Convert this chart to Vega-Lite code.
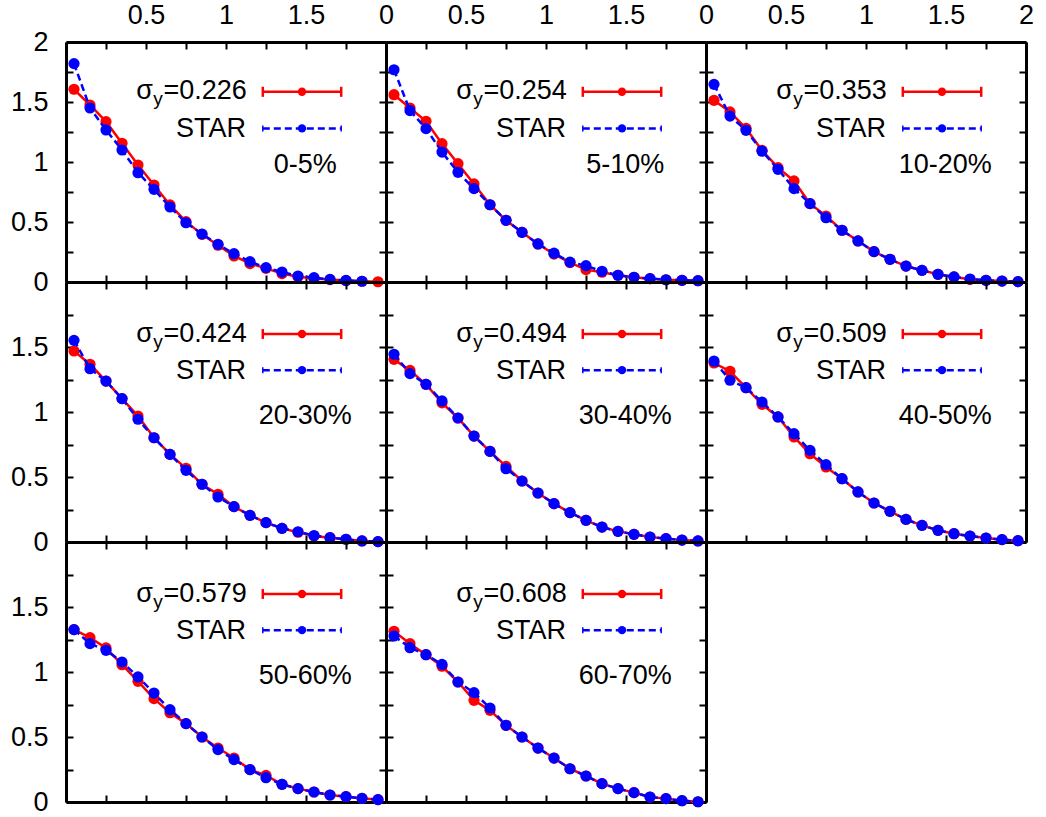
{
"$schema":"https://vega.github.io/schema/vega-lite/v6.json",
"padding":{"left":10,"top":1,"right":5,"bottom":5},
"background":"white",
"datasets":{"pts":[
{"c":"0-5%","s":"m","x":0.05,"y":1.606},{"c":"0-5%","s":"m","x":0.15,"y":1.475},{"c":"0-5%","s":"m","x":0.25,"y":1.336},{"c":"0-5%","s":"m","x":0.35,"y":1.156},{"c":"0-5%","s":"m","x":0.45,"y":0.975},{"c":"0-5%","s":"m","x":0.55,"y":0.808},{"c":"0-5%","s":"m","x":0.65,"y":0.642},{"c":"0-5%","s":"m","x":0.75,"y":0.503},{"c":"0-5%","s":"m","x":0.85,"y":0.397},{"c":"0-5%","s":"m","x":0.95,"y":0.306},{"c":"0-5%","s":"m","x":1.05,"y":0.217},{"c":"0-5%","s":"m","x":1.15,"y":0.153},{"c":"0-5%","s":"m","x":1.25,"y":0.114},{"c":"0-5%","s":"m","x":1.35,"y":0.07},{"c":"0-5%","s":"m","x":1.45,"y":0.044},{"c":"0-5%","s":"m","x":1.55,"y":0.03},{"c":"0-5%","s":"m","x":1.65,"y":0.02},{"c":"0-5%","s":"m","x":1.75,"y":0.012},{"c":"0-5%","s":"m","x":1.85,"y":0.006},{"c":"0-5%","s":"m","x":1.95,"y":0.002},
{"c":"0-5%","s":"s","x":0.05,"y":1.82},{"c":"0-5%","s":"s","x":0.15,"y":1.45},{"c":"0-5%","s":"s","x":0.25,"y":1.267},{"c":"0-5%","s":"s","x":0.35,"y":1.1},{"c":"0-5%","s":"s","x":0.45,"y":0.911},{"c":"0-5%","s":"s","x":0.55,"y":0.772},{"c":"0-5%","s":"s","x":0.65,"y":0.625},{"c":"0-5%","s":"s","x":0.75,"y":0.494},{"c":"0-5%","s":"s","x":0.85,"y":0.4},{"c":"0-5%","s":"s","x":0.95,"y":0.314},{"c":"0-5%","s":"s","x":1.05,"y":0.236},{"c":"0-5%","s":"s","x":1.15,"y":0.17},{"c":"0-5%","s":"s","x":1.25,"y":0.12},{"c":"0-5%","s":"s","x":1.35,"y":0.083},{"c":"0-5%","s":"s","x":1.45,"y":0.05},{"c":"0-5%","s":"s","x":1.55,"y":0.036},{"c":"0-5%","s":"s","x":1.65,"y":0.022},{"c":"0-5%","s":"s","x":1.75,"y":0.013},{"c":"0-5%","s":"s","x":1.85,"y":0.006},
{"c":"5-10%","s":"m","x":0.05,"y":1.561},{"c":"5-10%","s":"m","x":0.15,"y":1.45},{"c":"5-10%","s":"m","x":0.25,"y":1.339},{"c":"5-10%","s":"m","x":0.35,"y":1.153},{"c":"5-10%","s":"m","x":0.45,"y":0.986},{"c":"5-10%","s":"m","x":0.55,"y":0.817},{"c":"5-10%","s":"m","x":0.65,"y":0.644},{"c":"5-10%","s":"m","x":0.75,"y":0.514},{"c":"5-10%","s":"m","x":0.85,"y":0.414},{"c":"5-10%","s":"m","x":0.95,"y":0.317},{"c":"5-10%","s":"m","x":1.05,"y":0.232},{"c":"5-10%","s":"m","x":1.15,"y":0.162},{"c":"5-10%","s":"m","x":1.25,"y":0.103},{"c":"5-10%","s":"m","x":1.35,"y":0.081},{"c":"5-10%","s":"m","x":1.45,"y":0.056},{"c":"5-10%","s":"m","x":1.55,"y":0.039},{"c":"5-10%","s":"m","x":1.65,"y":0.028},{"c":"5-10%","s":"m","x":1.75,"y":0.019},{"c":"5-10%","s":"m","x":1.85,"y":0.014},{"c":"5-10%","s":"m","x":1.95,"y":0.011},
{"c":"5-10%","s":"s","x":0.05,"y":1.769},{"c":"5-10%","s":"s","x":0.15,"y":1.428},{"c":"5-10%","s":"s","x":0.25,"y":1.278},{"c":"5-10%","s":"s","x":0.35,"y":1.083},{"c":"5-10%","s":"s","x":0.45,"y":0.914},{"c":"5-10%","s":"s","x":0.55,"y":0.778},{"c":"5-10%","s":"s","x":0.65,"y":0.644},{"c":"5-10%","s":"s","x":0.75,"y":0.514},{"c":"5-10%","s":"s","x":0.85,"y":0.414},{"c":"5-10%","s":"s","x":0.95,"y":0.317},{"c":"5-10%","s":"s","x":1.05,"y":0.24},{"c":"5-10%","s":"s","x":1.15,"y":0.166},{"c":"5-10%","s":"s","x":1.25,"y":0.136},{"c":"5-10%","s":"s","x":1.35,"y":0.089},{"c":"5-10%","s":"s","x":1.45,"y":0.056},{"c":"5-10%","s":"s","x":1.55,"y":0.039},{"c":"5-10%","s":"s","x":1.65,"y":0.028},{"c":"5-10%","s":"s","x":1.75,"y":0.019},{"c":"5-10%","s":"s","x":1.85,"y":0.014},{"c":"5-10%","s":"s","x":1.95,"y":0.011},
{"c":"10-20%","s":"m","x":0.05,"y":1.514},{"c":"10-20%","s":"m","x":0.15,"y":1.417},{"c":"10-20%","s":"m","x":0.25,"y":1.281},{"c":"10-20%","s":"m","x":0.35,"y":1.097},{"c":"10-20%","s":"m","x":0.45,"y":0.953},{"c":"10-20%","s":"m","x":0.55,"y":0.842},{"c":"10-20%","s":"m","x":0.65,"y":0.653},{"c":"10-20%","s":"m","x":0.75,"y":0.55},{"c":"10-20%","s":"m","x":0.85,"y":0.431},{"c":"10-20%","s":"m","x":0.95,"y":0.342},{"c":"10-20%","s":"m","x":1.05,"y":0.253},{"c":"10-20%","s":"m","x":1.15,"y":0.189},{"c":"10-20%","s":"m","x":1.25,"y":0.133},{"c":"10-20%","s":"m","x":1.35,"y":0.097},{"c":"10-20%","s":"m","x":1.45,"y":0.064},{"c":"10-20%","s":"m","x":1.55,"y":0.042},{"c":"10-20%","s":"m","x":1.65,"y":0.022},{"c":"10-20%","s":"m","x":1.75,"y":0.014},{"c":"10-20%","s":"m","x":1.85,"y":0.008},{"c":"10-20%","s":"m","x":1.95,"y":0.003},
{"c":"10-20%","s":"s","x":0.05,"y":1.647},{"c":"10-20%","s":"s","x":0.15,"y":1.383},{"c":"10-20%","s":"s","x":0.25,"y":1.264},{"c":"10-20%","s":"s","x":0.35,"y":1.09},{"c":"10-20%","s":"s","x":0.45,"y":0.939},{"c":"10-20%","s":"s","x":0.55,"y":0.778},{"c":"10-20%","s":"s","x":0.65,"y":0.653},{"c":"10-20%","s":"s","x":0.75,"y":0.536},{"c":"10-20%","s":"s","x":0.85,"y":0.431},{"c":"10-20%","s":"s","x":0.95,"y":0.342},{"c":"10-20%","s":"s","x":1.05,"y":0.253},{"c":"10-20%","s":"s","x":1.15,"y":0.189},{"c":"10-20%","s":"s","x":1.25,"y":0.133},{"c":"10-20%","s":"s","x":1.35,"y":0.097},{"c":"10-20%","s":"s","x":1.45,"y":0.064},{"c":"10-20%","s":"s","x":1.55,"y":0.042},{"c":"10-20%","s":"s","x":1.65,"y":0.025},{"c":"10-20%","s":"s","x":1.75,"y":0.014},{"c":"10-20%","s":"s","x":1.85,"y":0.008},{"c":"10-20%","s":"s","x":1.95,"y":0.003},
{"c":"20-30%","s":"m","x":0.05,"y":1.469},{"c":"20-30%","s":"m","x":0.15,"y":1.367},{"c":"20-30%","s":"m","x":0.25,"y":1.238},{"c":"20-30%","s":"m","x":0.35,"y":1.103},{"c":"20-30%","s":"m","x":0.45,"y":0.969},{"c":"20-30%","s":"m","x":0.55,"y":0.802},{"c":"20-30%","s":"m","x":0.65,"y":0.674},{"c":"20-30%","s":"m","x":0.75,"y":0.567},{"c":"20-30%","s":"m","x":0.85,"y":0.444},{"c":"20-30%","s":"m","x":0.95,"y":0.367},{"c":"20-30%","s":"m","x":1.05,"y":0.272},{"c":"20-30%","s":"m","x":1.15,"y":0.205},{"c":"20-30%","s":"m","x":1.25,"y":0.149},{"c":"20-30%","s":"m","x":1.35,"y":0.105},{"c":"20-30%","s":"m","x":1.45,"y":0.075},{"c":"20-30%","s":"m","x":1.55,"y":0.046},{"c":"20-30%","s":"m","x":1.65,"y":0.033},{"c":"20-30%","s":"m","x":1.75,"y":0.021},{"c":"20-30%","s":"m","x":1.85,"y":0.008},{"c":"20-30%","s":"m","x":1.95,"y":0.003},
{"c":"20-30%","s":"s","x":0.05,"y":1.551},{"c":"20-30%","s":"s","x":0.15,"y":1.333},{"c":"20-30%","s":"s","x":0.25,"y":1.238},{"c":"20-30%","s":"s","x":0.35,"y":1.103},{"c":"20-30%","s":"s","x":0.45,"y":0.944},{"c":"20-30%","s":"s","x":0.55,"y":0.802},{"c":"20-30%","s":"s","x":0.65,"y":0.674},{"c":"20-30%","s":"s","x":0.75,"y":0.551},{"c":"20-30%","s":"s","x":0.85,"y":0.444},{"c":"20-30%","s":"s","x":0.95,"y":0.346},{"c":"20-30%","s":"s","x":1.05,"y":0.272},{"c":"20-30%","s":"s","x":1.15,"y":0.205},{"c":"20-30%","s":"s","x":1.25,"y":0.149},{"c":"20-30%","s":"s","x":1.35,"y":0.105},{"c":"20-30%","s":"s","x":1.45,"y":0.079},{"c":"20-30%","s":"s","x":1.55,"y":0.05},{"c":"20-30%","s":"s","x":1.65,"y":0.033},{"c":"20-30%","s":"s","x":1.75,"y":0.021},{"c":"20-30%","s":"s","x":1.85,"y":0.008},{"c":"20-30%","s":"s","x":1.95,"y":0.003},
{"c":"30-40%","s":"m","x":0.05,"y":1.405},{"c":"30-40%","s":"m","x":0.15,"y":1.32},{"c":"30-40%","s":"m","x":0.25,"y":1.213},{"c":"30-40%","s":"m","x":0.35,"y":1.07},{"c":"30-40%","s":"m","x":0.45,"y":0.954},{"c":"30-40%","s":"m","x":0.55,"y":0.815},{"c":"30-40%","s":"m","x":0.65,"y":0.697},{"c":"30-40%","s":"m","x":0.75,"y":0.582},{"c":"30-40%","s":"m","x":0.85,"y":0.469},{"c":"30-40%","s":"m","x":0.95,"y":0.377},{"c":"30-40%","s":"m","x":1.05,"y":0.295},{"c":"30-40%","s":"m","x":1.15,"y":0.226},{"c":"30-40%","s":"m","x":1.25,"y":0.167},{"c":"30-40%","s":"m","x":1.35,"y":0.115},{"c":"30-40%","s":"m","x":1.45,"y":0.082},{"c":"30-40%","s":"m","x":1.55,"y":0.059},{"c":"30-40%","s":"m","x":1.65,"y":0.038},{"c":"30-40%","s":"m","x":1.75,"y":0.026},{"c":"30-40%","s":"m","x":1.85,"y":0.015},{"c":"30-40%","s":"m","x":1.95,"y":0.008},
{"c":"30-40%","s":"s","x":0.05,"y":1.444},{"c":"30-40%","s":"s","x":0.15,"y":1.295},{"c":"30-40%","s":"s","x":0.25,"y":1.213},{"c":"30-40%","s":"s","x":0.35,"y":1.085},{"c":"30-40%","s":"s","x":0.45,"y":0.954},{"c":"30-40%","s":"s","x":0.55,"y":0.815},{"c":"30-40%","s":"s","x":0.65,"y":0.697},{"c":"30-40%","s":"s","x":0.75,"y":0.564},{"c":"30-40%","s":"s","x":0.85,"y":0.469},{"c":"30-40%","s":"s","x":0.95,"y":0.377},{"c":"30-40%","s":"s","x":1.05,"y":0.295},{"c":"30-40%","s":"s","x":1.15,"y":0.226},{"c":"30-40%","s":"s","x":1.25,"y":0.167},{"c":"30-40%","s":"s","x":1.35,"y":0.115},{"c":"30-40%","s":"s","x":1.45,"y":0.082},{"c":"30-40%","s":"s","x":1.55,"y":0.059},{"c":"30-40%","s":"s","x":1.65,"y":0.038},{"c":"30-40%","s":"s","x":1.75,"y":0.026},{"c":"30-40%","s":"s","x":1.85,"y":0.015},{"c":"30-40%","s":"s","x":1.95,"y":0.008},
{"c":"40-50%","s":"m","x":0.05,"y":1.377},{"c":"40-50%","s":"m","x":0.15,"y":1.313},{"c":"40-50%","s":"m","x":0.25,"y":1.187},{"c":"40-50%","s":"m","x":0.35,"y":1.059},{"c":"40-50%","s":"m","x":0.45,"y":0.962},{"c":"40-50%","s":"m","x":0.55,"y":0.808},{"c":"40-50%","s":"m","x":0.65,"y":0.679},{"c":"40-50%","s":"m","x":0.75,"y":0.577},{"c":"40-50%","s":"m","x":0.85,"y":0.487},{"c":"40-50%","s":"m","x":0.95,"y":0.385},{"c":"40-50%","s":"m","x":1.05,"y":0.3},{"c":"40-50%","s":"m","x":1.15,"y":0.236},{"c":"40-50%","s":"m","x":1.25,"y":0.174},{"c":"40-50%","s":"m","x":1.35,"y":0.128},{"c":"40-50%","s":"m","x":1.45,"y":0.09},{"c":"40-50%","s":"m","x":1.55,"y":0.064},{"c":"40-50%","s":"m","x":1.65,"y":0.046},{"c":"40-50%","s":"m","x":1.75,"y":0.031},{"c":"40-50%","s":"m","x":1.85,"y":0.018},{"c":"40-50%","s":"m","x":1.95,"y":0.01},
{"c":"40-50%","s":"s","x":0.05,"y":1.392},{"c":"40-50%","s":"s","x":0.15,"y":1.244},{"c":"40-50%","s":"s","x":0.25,"y":1.187},{"c":"40-50%","s":"s","x":0.35,"y":1.077},{"c":"40-50%","s":"s","x":0.45,"y":0.962},{"c":"40-50%","s":"s","x":0.55,"y":0.833},{"c":"40-50%","s":"s","x":0.65,"y":0.705},{"c":"40-50%","s":"s","x":0.75,"y":0.595},{"c":"40-50%","s":"s","x":0.85,"y":0.487},{"c":"40-50%","s":"s","x":0.95,"y":0.385},{"c":"40-50%","s":"s","x":1.05,"y":0.3},{"c":"40-50%","s":"s","x":1.15,"y":0.236},{"c":"40-50%","s":"s","x":1.25,"y":0.174},{"c":"40-50%","s":"s","x":1.35,"y":0.128},{"c":"40-50%","s":"s","x":1.45,"y":0.09},{"c":"40-50%","s":"s","x":1.55,"y":0.064},{"c":"40-50%","s":"s","x":1.65,"y":0.046},{"c":"40-50%","s":"s","x":1.75,"y":0.031},{"c":"40-50%","s":"s","x":1.85,"y":0.018},{"c":"40-50%","s":"s","x":1.95,"y":0.01},
{"c":"50-60%","s":"m","x":0.05,"y":1.326},{"c":"50-60%","s":"m","x":0.15,"y":1.264},{"c":"50-60%","s":"m","x":0.25,"y":1.185},{"c":"50-60%","s":"m","x":0.35,"y":1.056},{"c":"50-60%","s":"m","x":0.45,"y":0.928},{"c":"50-60%","s":"m","x":0.55,"y":0.795},{"c":"50-60%","s":"m","x":0.65,"y":0.687},{"c":"50-60%","s":"m","x":0.75,"y":0.603},{"c":"50-60%","s":"m","x":0.85,"y":0.5},{"c":"50-60%","s":"m","x":0.95,"y":0.415},{"c":"50-60%","s":"m","x":1.05,"y":0.338},{"c":"50-60%","s":"m","x":1.15,"y":0.249},{"c":"50-60%","s":"m","x":1.25,"y":0.205},{"c":"50-60%","s":"m","x":1.35,"y":0.136},{"c":"50-60%","s":"m","x":1.45,"y":0.103},{"c":"50-60%","s":"m","x":1.55,"y":0.077},{"c":"50-60%","s":"m","x":1.65,"y":0.054},{"c":"50-60%","s":"m","x":1.75,"y":0.041},{"c":"50-60%","s":"m","x":1.85,"y":0.028},{"c":"50-60%","s":"m","x":1.95,"y":0.018},
{"c":"50-60%","s":"s","x":0.05,"y":1.326},{"c":"50-60%","s":"s","x":0.15,"y":1.218},{"c":"50-60%","s":"s","x":0.25,"y":1.167},{"c":"50-60%","s":"s","x":0.35,"y":1.077},{"c":"50-60%","s":"s","x":0.45,"y":0.962},{"c":"50-60%","s":"s","x":0.55,"y":0.838},{"c":"50-60%","s":"s","x":0.65,"y":0.71},{"c":"50-60%","s":"s","x":0.75,"y":0.603},{"c":"50-60%","s":"s","x":0.85,"y":0.5},{"c":"50-60%","s":"s","x":0.95,"y":0.403},{"c":"50-60%","s":"s","x":1.05,"y":0.326},{"c":"50-60%","s":"s","x":1.15,"y":0.249},{"c":"50-60%","s":"s","x":1.25,"y":0.187},{"c":"50-60%","s":"s","x":1.35,"y":0.136},{"c":"50-60%","s":"s","x":1.45,"y":0.103},{"c":"50-60%","s":"s","x":1.55,"y":0.077},{"c":"50-60%","s":"s","x":1.65,"y":0.054},{"c":"50-60%","s":"s","x":1.75,"y":0.041},{"c":"50-60%","s":"s","x":1.85,"y":0.028},{"c":"50-60%","s":"s","x":1.95,"y":0.018},
{"c":"60-70%","s":"m","x":0.05,"y":1.313},{"c":"60-70%","s":"m","x":0.15,"y":1.218},{"c":"60-70%","s":"m","x":0.25,"y":1.133},{"c":"60-70%","s":"m","x":0.35,"y":1.044},{"c":"60-70%","s":"m","x":0.45,"y":0.923},{"c":"60-70%","s":"m","x":0.55,"y":0.782},{"c":"60-70%","s":"m","x":0.65,"y":0.705},{"c":"60-70%","s":"m","x":0.75,"y":0.59},{"c":"60-70%","s":"m","x":0.85,"y":0.5},{"c":"60-70%","s":"m","x":0.95,"y":0.415},{"c":"60-70%","s":"m","x":1.05,"y":0.338},{"c":"60-70%","s":"m","x":1.15,"y":0.256},{"c":"60-70%","s":"m","x":1.25,"y":0.2},{"c":"60-70%","s":"m","x":1.35,"y":0.141},{"c":"60-70%","s":"m","x":1.45,"y":0.103},{"c":"60-70%","s":"m","x":1.55,"y":0.072},{"c":"60-70%","s":"m","x":1.65,"y":0.038},{"c":"60-70%","s":"m","x":1.75,"y":0.026},{"c":"60-70%","s":"m","x":1.85,"y":0.01},{"c":"60-70%","s":"m","x":1.95,"y":0.002},
{"c":"60-70%","s":"s","x":0.05,"y":1.277},{"c":"60-70%","s":"s","x":0.15,"y":1.187},{"c":"60-70%","s":"s","x":0.25,"y":1.133},{"c":"60-70%","s":"s","x":0.35,"y":1.059},{"c":"60-70%","s":"s","x":0.45,"y":0.923},{"c":"60-70%","s":"s","x":0.55,"y":0.841},{"c":"60-70%","s":"s","x":0.65,"y":0.723},{"c":"60-70%","s":"s","x":0.75,"y":0.59},{"c":"60-70%","s":"s","x":0.85,"y":0.5},{"c":"60-70%","s":"s","x":0.95,"y":0.415},{"c":"60-70%","s":"s","x":1.05,"y":0.338},{"c":"60-70%","s":"s","x":1.15,"y":0.256},{"c":"60-70%","s":"s","x":1.25,"y":0.2},{"c":"60-70%","s":"s","x":1.35,"y":0.141},{"c":"60-70%","s":"s","x":1.45,"y":0.103},{"c":"60-70%","s":"s","x":1.55,"y":0.072},{"c":"60-70%","s":"s","x":1.65,"y":0.038},{"c":"60-70%","s":"s","x":1.75,"y":0.026},{"c":"60-70%","s":"s","x":1.85,"y":0.01},{"c":"60-70%","s":"s","x":1.95,"y":0.002}
]},
"config":{
"view":{"stroke":null},
"axis":{"tickSize":-7,"tickWidth":2,"tickColor":"black","domainColor":"black","domainWidth":3,"grid":false,"labelFont":"Liberation Sans","labelFontSize":27,"labelColor":"black","labelFlush":false,"labelOverlap":false,"labelBound":false}
},
"columns":3,
"spacing":0,
"bounds":"flush",
"align":"each",
"concat":[
{"width":320,"height":240,"resolve":{"axis":{"x":"independent","y":"independent"}},"layer":[
{"data":{"name":"pts"},"transform":[{"filter":"datum.c=='0-5%' && datum.s=='m'"}],"mark":{"type":"line","color":"#ff0000","strokeWidth":2.5,"point":{"filled":true,"size":125,"color":"#ff0000","opacity":1}},"encoding":{"x":{"field":"x","type":"quantitative","scale":{"domain":[0,2]},"axis":{"orient":"bottom","values":[0,0.25,0.5,0.75,1,1.25,1.5,1.75,2],"labels":false,"title":null}},"y":{"field":"y","type":"quantitative","scale":{"domain":[0,2]},"axis":{"orient":"left","values":[0,0.25,0.5,0.75,1,1.25,1.5,1.75,2],"title":null,"labelPadding":25,"labelExpr":"datum.value % 0.5 == 0 ? format(datum.value, '~g') : ''"}}}},
{"data":{"name":"pts"},"transform":[{"filter":"datum.c=='0-5%' && datum.s=='s'"}],"mark":{"type":"line","color":"#0000ff","strokeWidth":2.5,"strokeDash":[7,4],"point":{"filled":true,"size":125,"color":"#0000ff","opacity":1}},"encoding":{"x":{"field":"x","type":"quantitative","axis":{"orient":"top","values":[0,0.25,0.5,0.75,1,1.25,1.5,1.75,2],"title":null,"labelPadding":20,"labelExpr":"datum.value % 0.5 == 0 && datum.value > 0 && datum.value < 2 ? format(datum.value, '~g') : ''"}},"y":{"field":"y","type":"quantitative","axis":{"orient":"right","values":[0,0.25,0.5,0.75,1,1.25,1.5,1.75,2],"labels":false,"title":null}}}},
{"data":{"values":[{}]},"layer":[
{"mark":{"type":"rule","color":"#ff0000","strokeWidth":2.5},"encoding":{"x":{"datum":1.23,"type":"quantitative","axis":null},"x2":{"datum":1.72},"y":{"datum":1.585,"type":"quantitative","axis":null}}},
{"mark":{"type":"rule","color":"#ff0000","strokeWidth":2.5},"encoding":{"x":{"datum":1.23,"type":"quantitative","axis":null},"y":{"datum":1.543,"type":"quantitative","axis":null},"y2":{"datum":1.627}}},
{"mark":{"type":"rule","color":"#ff0000","strokeWidth":2.5},"encoding":{"x":{"datum":1.72,"type":"quantitative","axis":null},"y":{"datum":1.543,"type":"quantitative","axis":null},"y2":{"datum":1.627}}},
{"mark":{"type":"point","filled":true,"size":70,"color":"#ff0000","opacity":1},"encoding":{"x":{"datum":1.475,"type":"quantitative","axis":null},"y":{"datum":1.585,"type":"quantitative","axis":null}}},
{"mark":{"type":"rule","color":"#0000ff","strokeWidth":2.5,"strokeDash":[7,4]},"encoding":{"x":{"datum":1.23,"type":"quantitative","axis":null},"x2":{"datum":1.72},"y":{"datum":1.28,"type":"quantitative","axis":null}}},
{"mark":{"type":"rule","color":"#0000ff","strokeWidth":1.5},"encoding":{"x":{"datum":1.23,"type":"quantitative","axis":null},"y":{"datum":1.255,"type":"quantitative","axis":null},"y2":{"datum":1.305}}},
{"mark":{"type":"rule","color":"#0000ff","strokeWidth":1.5},"encoding":{"x":{"datum":1.72,"type":"quantitative","axis":null},"y":{"datum":1.255,"type":"quantitative","axis":null},"y2":{"datum":1.305}}},
{"mark":{"type":"point","filled":true,"size":70,"color":"#0000ff","opacity":1},"encoding":{"x":{"datum":1.475,"type":"quantitative","axis":null},"y":{"datum":1.28,"type":"quantitative","axis":null}}},
{"mark":{"type":"text","text":"=0.226","align":"right","baseline":"middle","font":"Liberation Sans","fontSize":27,"color":"black"},"encoding":{"x":{"datum":1.13,"type":"quantitative","axis":null},"y":{"datum":1.595,"type":"quantitative","axis":null}}},
{"mark":{"type":"text","text":"y","align":"right","baseline":"middle","font":"Liberation Sans","fontSize":19,"color":"black","dx":-84,"dy":8},"encoding":{"x":{"datum":1.13,"type":"quantitative","axis":null},"y":{"datum":1.595,"type":"quantitative","axis":null}}},
{"mark":{"type":"text","text":"σ","align":"right","baseline":"middle","font":"Liberation Sans","fontSize":27,"color":"black","dx":-94},"encoding":{"x":{"datum":1.13,"type":"quantitative","axis":null},"y":{"datum":1.595,"type":"quantitative","axis":null}}},
{"mark":{"type":"text","text":"STAR","align":"right","baseline":"middle","font":"Liberation Sans","fontSize":27,"color":"black"},"encoding":{"x":{"datum":1.125,"type":"quantitative","axis":null},"y":{"datum":1.275,"type":"quantitative","axis":null}}},
{"mark":{"type":"text","text":"0-5%","align":"center","baseline":"middle","font":"Liberation Sans","fontSize":27,"color":"black"},"encoding":{"x":{"datum":1.495,"type":"quantitative","axis":null},"y":{"datum":0.975,"type":"quantitative","axis":null}}}
]}
]},
{"width":320,"height":240,"resolve":{"axis":{"x":"independent","y":"independent"}},"layer":[
{"data":{"name":"pts"},"transform":[{"filter":"datum.c=='5-10%' && datum.s=='m'"}],"mark":{"type":"line","color":"#ff0000","strokeWidth":2.5,"point":{"filled":true,"size":125,"color":"#ff0000","opacity":1}},"encoding":{"x":{"field":"x","type":"quantitative","scale":{"domain":[0,2]},"axis":{"orient":"bottom","values":[0,0.25,0.5,0.75,1,1.25,1.5,1.75,2],"labels":false,"title":null}},"y":{"field":"y","type":"quantitative","scale":{"domain":[0,2]},"axis":{"orient":"left","values":[0,0.25,0.5,0.75,1,1.25,1.5,1.75,2],"labels":false,"title":null}}}},
{"data":{"name":"pts"},"transform":[{"filter":"datum.c=='5-10%' && datum.s=='s'"}],"mark":{"type":"line","color":"#0000ff","strokeWidth":2.5,"strokeDash":[7,4],"point":{"filled":true,"size":125,"color":"#0000ff","opacity":1}},"encoding":{"x":{"field":"x","type":"quantitative","axis":{"orient":"top","values":[0,0.25,0.5,0.75,1,1.25,1.5,1.75,2],"title":null,"labelPadding":20,"labelExpr":"datum.value % 0.5 == 0 && datum.value < 2 ? format(datum.value, '~g') : ''"}},"y":{"field":"y","type":"quantitative","axis":{"orient":"right","values":[0,0.25,0.5,0.75,1,1.25,1.5,1.75,2],"labels":false,"title":null}}}},
{"data":{"values":[{}]},"layer":[
{"mark":{"type":"rule","color":"#ff0000","strokeWidth":2.5},"encoding":{"x":{"datum":1.23,"type":"quantitative","axis":null},"x2":{"datum":1.72},"y":{"datum":1.585,"type":"quantitative","axis":null}}},
{"mark":{"type":"rule","color":"#ff0000","strokeWidth":2.5},"encoding":{"x":{"datum":1.23,"type":"quantitative","axis":null},"y":{"datum":1.543,"type":"quantitative","axis":null},"y2":{"datum":1.627}}},
{"mark":{"type":"rule","color":"#ff0000","strokeWidth":2.5},"encoding":{"x":{"datum":1.72,"type":"quantitative","axis":null},"y":{"datum":1.543,"type":"quantitative","axis":null},"y2":{"datum":1.627}}},
{"mark":{"type":"point","filled":true,"size":70,"color":"#ff0000","opacity":1},"encoding":{"x":{"datum":1.475,"type":"quantitative","axis":null},"y":{"datum":1.585,"type":"quantitative","axis":null}}},
{"mark":{"type":"rule","color":"#0000ff","strokeWidth":2.5,"strokeDash":[7,4]},"encoding":{"x":{"datum":1.23,"type":"quantitative","axis":null},"x2":{"datum":1.72},"y":{"datum":1.28,"type":"quantitative","axis":null}}},
{"mark":{"type":"rule","color":"#0000ff","strokeWidth":1.5},"encoding":{"x":{"datum":1.23,"type":"quantitative","axis":null},"y":{"datum":1.255,"type":"quantitative","axis":null},"y2":{"datum":1.305}}},
{"mark":{"type":"rule","color":"#0000ff","strokeWidth":1.5},"encoding":{"x":{"datum":1.72,"type":"quantitative","axis":null},"y":{"datum":1.255,"type":"quantitative","axis":null},"y2":{"datum":1.305}}},
{"mark":{"type":"point","filled":true,"size":70,"color":"#0000ff","opacity":1},"encoding":{"x":{"datum":1.475,"type":"quantitative","axis":null},"y":{"datum":1.28,"type":"quantitative","axis":null}}},
{"mark":{"type":"text","text":"=0.254","align":"right","baseline":"middle","font":"Liberation Sans","fontSize":27,"color":"black"},"encoding":{"x":{"datum":1.13,"type":"quantitative","axis":null},"y":{"datum":1.595,"type":"quantitative","axis":null}}},
{"mark":{"type":"text","text":"y","align":"right","baseline":"middle","font":"Liberation Sans","fontSize":19,"color":"black","dx":-84,"dy":8},"encoding":{"x":{"datum":1.13,"type":"quantitative","axis":null},"y":{"datum":1.595,"type":"quantitative","axis":null}}},
{"mark":{"type":"text","text":"σ","align":"right","baseline":"middle","font":"Liberation Sans","fontSize":27,"color":"black","dx":-94},"encoding":{"x":{"datum":1.13,"type":"quantitative","axis":null},"y":{"datum":1.595,"type":"quantitative","axis":null}}},
{"mark":{"type":"text","text":"STAR","align":"right","baseline":"middle","font":"Liberation Sans","fontSize":27,"color":"black"},"encoding":{"x":{"datum":1.125,"type":"quantitative","axis":null},"y":{"datum":1.275,"type":"quantitative","axis":null}}},
{"mark":{"type":"text","text":"5-10%","align":"center","baseline":"middle","font":"Liberation Sans","fontSize":27,"color":"black"},"encoding":{"x":{"datum":1.495,"type":"quantitative","axis":null},"y":{"datum":0.975,"type":"quantitative","axis":null}}}
]}
]},
{"width":320,"height":240,"resolve":{"axis":{"x":"independent","y":"independent"}},"layer":[
{"data":{"name":"pts"},"transform":[{"filter":"datum.c=='10-20%' && datum.s=='m'"}],"mark":{"type":"line","color":"#ff0000","strokeWidth":2.5,"point":{"filled":true,"size":125,"color":"#ff0000","opacity":1}},"encoding":{"x":{"field":"x","type":"quantitative","scale":{"domain":[0,2]},"axis":{"orient":"bottom","values":[0,0.25,0.5,0.75,1,1.25,1.5,1.75,2],"labels":false,"title":null}},"y":{"field":"y","type":"quantitative","scale":{"domain":[0,2]},"axis":{"orient":"left","values":[0,0.25,0.5,0.75,1,1.25,1.5,1.75,2],"labels":false,"title":null}}}},
{"data":{"name":"pts"},"transform":[{"filter":"datum.c=='10-20%' && datum.s=='s'"}],"mark":{"type":"line","color":"#0000ff","strokeWidth":2.5,"strokeDash":[7,4],"point":{"filled":true,"size":125,"color":"#0000ff","opacity":1}},"encoding":{"x":{"field":"x","type":"quantitative","axis":{"orient":"top","values":[0,0.25,0.5,0.75,1,1.25,1.5,1.75,2],"title":null,"labelPadding":20,"labelExpr":"datum.value % 0.5 == 0 ? format(datum.value, '~g') : ''"}},"y":{"field":"y","type":"quantitative","axis":{"orient":"right","values":[0,0.25,0.5,0.75,1,1.25,1.5,1.75,2],"labels":false,"title":null}}}},
{"data":{"values":[{}]},"layer":[
{"mark":{"type":"rule","color":"#ff0000","strokeWidth":2.5},"encoding":{"x":{"datum":1.23,"type":"quantitative","axis":null},"x2":{"datum":1.72},"y":{"datum":1.585,"type":"quantitative","axis":null}}},
{"mark":{"type":"rule","color":"#ff0000","strokeWidth":2.5},"encoding":{"x":{"datum":1.23,"type":"quantitative","axis":null},"y":{"datum":1.543,"type":"quantitative","axis":null},"y2":{"datum":1.627}}},
{"mark":{"type":"rule","color":"#ff0000","strokeWidth":2.5},"encoding":{"x":{"datum":1.72,"type":"quantitative","axis":null},"y":{"datum":1.543,"type":"quantitative","axis":null},"y2":{"datum":1.627}}},
{"mark":{"type":"point","filled":true,"size":70,"color":"#ff0000","opacity":1},"encoding":{"x":{"datum":1.475,"type":"quantitative","axis":null},"y":{"datum":1.585,"type":"quantitative","axis":null}}},
{"mark":{"type":"rule","color":"#0000ff","strokeWidth":2.5,"strokeDash":[7,4]},"encoding":{"x":{"datum":1.23,"type":"quantitative","axis":null},"x2":{"datum":1.72},"y":{"datum":1.28,"type":"quantitative","axis":null}}},
{"mark":{"type":"rule","color":"#0000ff","strokeWidth":1.5},"encoding":{"x":{"datum":1.23,"type":"quantitative","axis":null},"y":{"datum":1.255,"type":"quantitative","axis":null},"y2":{"datum":1.305}}},
{"mark":{"type":"rule","color":"#0000ff","strokeWidth":1.5},"encoding":{"x":{"datum":1.72,"type":"quantitative","axis":null},"y":{"datum":1.255,"type":"quantitative","axis":null},"y2":{"datum":1.305}}},
{"mark":{"type":"point","filled":true,"size":70,"color":"#0000ff","opacity":1},"encoding":{"x":{"datum":1.475,"type":"quantitative","axis":null},"y":{"datum":1.28,"type":"quantitative","axis":null}}},
{"mark":{"type":"text","text":"=0.353","align":"right","baseline":"middle","font":"Liberation Sans","fontSize":27,"color":"black"},"encoding":{"x":{"datum":1.13,"type":"quantitative","axis":null},"y":{"datum":1.595,"type":"quantitative","axis":null}}},
{"mark":{"type":"text","text":"y","align":"right","baseline":"middle","font":"Liberation Sans","fontSize":19,"color":"black","dx":-84,"dy":8},"encoding":{"x":{"datum":1.13,"type":"quantitative","axis":null},"y":{"datum":1.595,"type":"quantitative","axis":null}}},
{"mark":{"type":"text","text":"σ","align":"right","baseline":"middle","font":"Liberation Sans","fontSize":27,"color":"black","dx":-94},"encoding":{"x":{"datum":1.13,"type":"quantitative","axis":null},"y":{"datum":1.595,"type":"quantitative","axis":null}}},
{"mark":{"type":"text","text":"STAR","align":"right","baseline":"middle","font":"Liberation Sans","fontSize":27,"color":"black"},"encoding":{"x":{"datum":1.125,"type":"quantitative","axis":null},"y":{"datum":1.275,"type":"quantitative","axis":null}}},
{"mark":{"type":"text","text":"10-20%","align":"center","baseline":"middle","font":"Liberation Sans","fontSize":27,"color":"black"},"encoding":{"x":{"datum":1.495,"type":"quantitative","axis":null},"y":{"datum":0.975,"type":"quantitative","axis":null}}}
]}
]},
{"width":320,"height":260,"resolve":{"axis":{"x":"independent","y":"independent"}},"layer":[
{"data":{"name":"pts"},"transform":[{"filter":"datum.c=='20-30%' && datum.s=='m'"}],"mark":{"type":"line","color":"#ff0000","strokeWidth":2.5,"point":{"filled":true,"size":125,"color":"#ff0000","opacity":1}},"encoding":{"x":{"field":"x","type":"quantitative","scale":{"domain":[0,2]},"axis":{"orient":"bottom","values":[0,0.25,0.5,0.75,1,1.25,1.5,1.75,2],"labels":false,"title":null}},"y":{"field":"y","type":"quantitative","scale":{"domain":[0,2]},"axis":{"orient":"left","values":[0,0.25,0.5,0.75,1,1.25,1.5,1.75,2],"title":null,"labelPadding":25,"labelExpr":"datum.value % 0.5 == 0 && datum.value < 2 ? format(datum.value, '~g') : ''"}}}},
{"data":{"name":"pts"},"transform":[{"filter":"datum.c=='20-30%' && datum.s=='s'"}],"mark":{"type":"line","color":"#0000ff","strokeWidth":2.5,"strokeDash":[7,4],"point":{"filled":true,"size":125,"color":"#0000ff","opacity":1}},"encoding":{"x":{"field":"x","type":"quantitative","axis":{"orient":"top","values":[0,0.25,0.5,0.75,1,1.25,1.5,1.75,2],"labels":false,"title":null}},"y":{"field":"y","type":"quantitative","axis":{"orient":"right","values":[0,0.25,0.5,0.75,1,1.25,1.5,1.75,2],"labels":false,"title":null}}}},
{"data":{"values":[{}]},"layer":[
{"mark":{"type":"rule","color":"#ff0000","strokeWidth":2.5},"encoding":{"x":{"datum":1.23,"type":"quantitative","axis":null},"x2":{"datum":1.72},"y":{"datum":1.6,"type":"quantitative","axis":null}}},
{"mark":{"type":"rule","color":"#ff0000","strokeWidth":2.5},"encoding":{"x":{"datum":1.23,"type":"quantitative","axis":null},"y":{"datum":1.562,"type":"quantitative","axis":null},"y2":{"datum":1.638}}},
{"mark":{"type":"rule","color":"#ff0000","strokeWidth":2.5},"encoding":{"x":{"datum":1.72,"type":"quantitative","axis":null},"y":{"datum":1.562,"type":"quantitative","axis":null},"y2":{"datum":1.638}}},
{"mark":{"type":"point","filled":true,"size":70,"color":"#ff0000","opacity":1},"encoding":{"x":{"datum":1.475,"type":"quantitative","axis":null},"y":{"datum":1.6,"type":"quantitative","axis":null}}},
{"mark":{"type":"rule","color":"#0000ff","strokeWidth":2.5,"strokeDash":[7,4]},"encoding":{"x":{"datum":1.23,"type":"quantitative","axis":null},"x2":{"datum":1.72},"y":{"datum":1.322,"type":"quantitative","axis":null}}},
{"mark":{"type":"rule","color":"#0000ff","strokeWidth":1.5},"encoding":{"x":{"datum":1.23,"type":"quantitative","axis":null},"y":{"datum":1.299,"type":"quantitative","axis":null},"y2":{"datum":1.345}}},
{"mark":{"type":"rule","color":"#0000ff","strokeWidth":1.5},"encoding":{"x":{"datum":1.72,"type":"quantitative","axis":null},"y":{"datum":1.299,"type":"quantitative","axis":null},"y2":{"datum":1.345}}},
{"mark":{"type":"point","filled":true,"size":70,"color":"#0000ff","opacity":1},"encoding":{"x":{"datum":1.475,"type":"quantitative","axis":null},"y":{"datum":1.322,"type":"quantitative","axis":null}}},
{"mark":{"type":"text","text":"=0.424","align":"right","baseline":"middle","font":"Liberation Sans","fontSize":27,"color":"black"},"encoding":{"x":{"datum":1.13,"type":"quantitative","axis":null},"y":{"datum":1.6,"type":"quantitative","axis":null}}},
{"mark":{"type":"text","text":"y","align":"right","baseline":"middle","font":"Liberation Sans","fontSize":19,"color":"black","dx":-84,"dy":8},"encoding":{"x":{"datum":1.13,"type":"quantitative","axis":null},"y":{"datum":1.6,"type":"quantitative","axis":null}}},
{"mark":{"type":"text","text":"σ","align":"right","baseline":"middle","font":"Liberation Sans","fontSize":27,"color":"black","dx":-94},"encoding":{"x":{"datum":1.13,"type":"quantitative","axis":null},"y":{"datum":1.6,"type":"quantitative","axis":null}}},
{"mark":{"type":"text","text":"STAR","align":"right","baseline":"middle","font":"Liberation Sans","fontSize":27,"color":"black"},"encoding":{"x":{"datum":1.125,"type":"quantitative","axis":null},"y":{"datum":1.318,"type":"quantitative","axis":null}}},
{"mark":{"type":"text","text":"20-30%","align":"center","baseline":"middle","font":"Liberation Sans","fontSize":27,"color":"black"},"encoding":{"x":{"datum":1.495,"type":"quantitative","axis":null},"y":{"datum":0.97,"type":"quantitative","axis":null}}}
]}
]},
{"width":320,"height":260,"resolve":{"axis":{"x":"independent","y":"independent"}},"layer":[
{"data":{"name":"pts"},"transform":[{"filter":"datum.c=='30-40%' && datum.s=='m'"}],"mark":{"type":"line","color":"#ff0000","strokeWidth":2.5,"point":{"filled":true,"size":125,"color":"#ff0000","opacity":1}},"encoding":{"x":{"field":"x","type":"quantitative","scale":{"domain":[0,2]},"axis":{"orient":"bottom","values":[0,0.25,0.5,0.75,1,1.25,1.5,1.75,2],"labels":false,"title":null}},"y":{"field":"y","type":"quantitative","scale":{"domain":[0,2]},"axis":{"orient":"left","values":[0,0.25,0.5,0.75,1,1.25,1.5,1.75,2],"labels":false,"title":null}}}},
{"data":{"name":"pts"},"transform":[{"filter":"datum.c=='30-40%' && datum.s=='s'"}],"mark":{"type":"line","color":"#0000ff","strokeWidth":2.5,"strokeDash":[7,4],"point":{"filled":true,"size":125,"color":"#0000ff","opacity":1}},"encoding":{"x":{"field":"x","type":"quantitative","axis":{"orient":"top","values":[0,0.25,0.5,0.75,1,1.25,1.5,1.75,2],"labels":false,"title":null}},"y":{"field":"y","type":"quantitative","axis":{"orient":"right","values":[0,0.25,0.5,0.75,1,1.25,1.5,1.75,2],"labels":false,"title":null}}}},
{"data":{"values":[{}]},"layer":[
{"mark":{"type":"rule","color":"#ff0000","strokeWidth":2.5},"encoding":{"x":{"datum":1.23,"type":"quantitative","axis":null},"x2":{"datum":1.72},"y":{"datum":1.6,"type":"quantitative","axis":null}}},
{"mark":{"type":"rule","color":"#ff0000","strokeWidth":2.5},"encoding":{"x":{"datum":1.23,"type":"quantitative","axis":null},"y":{"datum":1.562,"type":"quantitative","axis":null},"y2":{"datum":1.638}}},
{"mark":{"type":"rule","color":"#ff0000","strokeWidth":2.5},"encoding":{"x":{"datum":1.72,"type":"quantitative","axis":null},"y":{"datum":1.562,"type":"quantitative","axis":null},"y2":{"datum":1.638}}},
{"mark":{"type":"point","filled":true,"size":70,"color":"#ff0000","opacity":1},"encoding":{"x":{"datum":1.475,"type":"quantitative","axis":null},"y":{"datum":1.6,"type":"quantitative","axis":null}}},
{"mark":{"type":"rule","color":"#0000ff","strokeWidth":2.5,"strokeDash":[7,4]},"encoding":{"x":{"datum":1.23,"type":"quantitative","axis":null},"x2":{"datum":1.72},"y":{"datum":1.322,"type":"quantitative","axis":null}}},
{"mark":{"type":"rule","color":"#0000ff","strokeWidth":1.5},"encoding":{"x":{"datum":1.23,"type":"quantitative","axis":null},"y":{"datum":1.299,"type":"quantitative","axis":null},"y2":{"datum":1.345}}},
{"mark":{"type":"rule","color":"#0000ff","strokeWidth":1.5},"encoding":{"x":{"datum":1.72,"type":"quantitative","axis":null},"y":{"datum":1.299,"type":"quantitative","axis":null},"y2":{"datum":1.345}}},
{"mark":{"type":"point","filled":true,"size":70,"color":"#0000ff","opacity":1},"encoding":{"x":{"datum":1.475,"type":"quantitative","axis":null},"y":{"datum":1.322,"type":"quantitative","axis":null}}},
{"mark":{"type":"text","text":"=0.494","align":"right","baseline":"middle","font":"Liberation Sans","fontSize":27,"color":"black"},"encoding":{"x":{"datum":1.13,"type":"quantitative","axis":null},"y":{"datum":1.6,"type":"quantitative","axis":null}}},
{"mark":{"type":"text","text":"y","align":"right","baseline":"middle","font":"Liberation Sans","fontSize":19,"color":"black","dx":-84,"dy":8},"encoding":{"x":{"datum":1.13,"type":"quantitative","axis":null},"y":{"datum":1.6,"type":"quantitative","axis":null}}},
{"mark":{"type":"text","text":"σ","align":"right","baseline":"middle","font":"Liberation Sans","fontSize":27,"color":"black","dx":-94},"encoding":{"x":{"datum":1.13,"type":"quantitative","axis":null},"y":{"datum":1.6,"type":"quantitative","axis":null}}},
{"mark":{"type":"text","text":"STAR","align":"right","baseline":"middle","font":"Liberation Sans","fontSize":27,"color":"black"},"encoding":{"x":{"datum":1.125,"type":"quantitative","axis":null},"y":{"datum":1.318,"type":"quantitative","axis":null}}},
{"mark":{"type":"text","text":"30-40%","align":"center","baseline":"middle","font":"Liberation Sans","fontSize":27,"color":"black"},"encoding":{"x":{"datum":1.495,"type":"quantitative","axis":null},"y":{"datum":0.97,"type":"quantitative","axis":null}}}
]}
]},
{"width":320,"height":260,"resolve":{"axis":{"x":"independent","y":"independent"}},"layer":[
{"data":{"name":"pts"},"transform":[{"filter":"datum.c=='40-50%' && datum.s=='m'"}],"mark":{"type":"line","color":"#ff0000","strokeWidth":2.5,"point":{"filled":true,"size":125,"color":"#ff0000","opacity":1}},"encoding":{"x":{"field":"x","type":"quantitative","scale":{"domain":[0,2]},"axis":{"orient":"bottom","values":[0,0.25,0.5,0.75,1,1.25,1.5,1.75,2],"labels":false,"title":null}},"y":{"field":"y","type":"quantitative","scale":{"domain":[0,2]},"axis":{"orient":"left","values":[0,0.25,0.5,0.75,1,1.25,1.5,1.75,2],"labels":false,"title":null}}}},
{"data":{"name":"pts"},"transform":[{"filter":"datum.c=='40-50%' && datum.s=='s'"}],"mark":{"type":"line","color":"#0000ff","strokeWidth":2.5,"strokeDash":[7,4],"point":{"filled":true,"size":125,"color":"#0000ff","opacity":1}},"encoding":{"x":{"field":"x","type":"quantitative","axis":{"orient":"top","values":[0,0.25,0.5,0.75,1,1.25,1.5,1.75,2],"labels":false,"title":null}},"y":{"field":"y","type":"quantitative","axis":{"orient":"right","values":[0,0.25,0.5,0.75,1,1.25,1.5,1.75,2],"labels":false,"title":null}}}},
{"data":{"values":[{}]},"layer":[
{"mark":{"type":"rule","color":"#ff0000","strokeWidth":2.5},"encoding":{"x":{"datum":1.23,"type":"quantitative","axis":null},"x2":{"datum":1.72},"y":{"datum":1.6,"type":"quantitative","axis":null}}},
{"mark":{"type":"rule","color":"#ff0000","strokeWidth":2.5},"encoding":{"x":{"datum":1.23,"type":"quantitative","axis":null},"y":{"datum":1.562,"type":"quantitative","axis":null},"y2":{"datum":1.638}}},
{"mark":{"type":"rule","color":"#ff0000","strokeWidth":2.5},"encoding":{"x":{"datum":1.72,"type":"quantitative","axis":null},"y":{"datum":1.562,"type":"quantitative","axis":null},"y2":{"datum":1.638}}},
{"mark":{"type":"point","filled":true,"size":70,"color":"#ff0000","opacity":1},"encoding":{"x":{"datum":1.475,"type":"quantitative","axis":null},"y":{"datum":1.6,"type":"quantitative","axis":null}}},
{"mark":{"type":"rule","color":"#0000ff","strokeWidth":2.5,"strokeDash":[7,4]},"encoding":{"x":{"datum":1.23,"type":"quantitative","axis":null},"x2":{"datum":1.72},"y":{"datum":1.322,"type":"quantitative","axis":null}}},
{"mark":{"type":"rule","color":"#0000ff","strokeWidth":1.5},"encoding":{"x":{"datum":1.23,"type":"quantitative","axis":null},"y":{"datum":1.299,"type":"quantitative","axis":null},"y2":{"datum":1.345}}},
{"mark":{"type":"rule","color":"#0000ff","strokeWidth":1.5},"encoding":{"x":{"datum":1.72,"type":"quantitative","axis":null},"y":{"datum":1.299,"type":"quantitative","axis":null},"y2":{"datum":1.345}}},
{"mark":{"type":"point","filled":true,"size":70,"color":"#0000ff","opacity":1},"encoding":{"x":{"datum":1.475,"type":"quantitative","axis":null},"y":{"datum":1.322,"type":"quantitative","axis":null}}},
{"mark":{"type":"text","text":"=0.509","align":"right","baseline":"middle","font":"Liberation Sans","fontSize":27,"color":"black"},"encoding":{"x":{"datum":1.13,"type":"quantitative","axis":null},"y":{"datum":1.6,"type":"quantitative","axis":null}}},
{"mark":{"type":"text","text":"y","align":"right","baseline":"middle","font":"Liberation Sans","fontSize":19,"color":"black","dx":-84,"dy":8},"encoding":{"x":{"datum":1.13,"type":"quantitative","axis":null},"y":{"datum":1.6,"type":"quantitative","axis":null}}},
{"mark":{"type":"text","text":"σ","align":"right","baseline":"middle","font":"Liberation Sans","fontSize":27,"color":"black","dx":-94},"encoding":{"x":{"datum":1.13,"type":"quantitative","axis":null},"y":{"datum":1.6,"type":"quantitative","axis":null}}},
{"mark":{"type":"text","text":"STAR","align":"right","baseline":"middle","font":"Liberation Sans","fontSize":27,"color":"black"},"encoding":{"x":{"datum":1.125,"type":"quantitative","axis":null},"y":{"datum":1.318,"type":"quantitative","axis":null}}},
{"mark":{"type":"text","text":"40-50%","align":"center","baseline":"middle","font":"Liberation Sans","fontSize":27,"color":"black"},"encoding":{"x":{"datum":1.495,"type":"quantitative","axis":null},"y":{"datum":0.97,"type":"quantitative","axis":null}}}
]}
]},
{"width":320,"height":260,"resolve":{"axis":{"x":"independent","y":"independent"}},"layer":[
{"data":{"name":"pts"},"transform":[{"filter":"datum.c=='50-60%' && datum.s=='m'"}],"mark":{"type":"line","color":"#ff0000","strokeWidth":2.5,"point":{"filled":true,"size":125,"color":"#ff0000","opacity":1}},"encoding":{"x":{"field":"x","type":"quantitative","scale":{"domain":[0,2]},"axis":{"orient":"bottom","values":[0,0.25,0.5,0.75,1,1.25,1.5,1.75,2],"labels":false,"title":null}},"y":{"field":"y","type":"quantitative","scale":{"domain":[0,2]},"axis":{"orient":"left","values":[0,0.25,0.5,0.75,1,1.25,1.5,1.75,2],"title":null,"labelPadding":25,"labelExpr":"datum.value % 0.5 == 0 && datum.value < 2 ? format(datum.value, '~g') : ''"}}}},
{"data":{"name":"pts"},"transform":[{"filter":"datum.c=='50-60%' && datum.s=='s'"}],"mark":{"type":"line","color":"#0000ff","strokeWidth":2.5,"strokeDash":[7,4],"point":{"filled":true,"size":125,"color":"#0000ff","opacity":1}},"encoding":{"x":{"field":"x","type":"quantitative","axis":{"orient":"top","values":[0,0.25,0.5,0.75,1,1.25,1.5,1.75,2],"labels":false,"title":null}},"y":{"field":"y","type":"quantitative","axis":{"orient":"right","values":[0,0.25,0.5,0.75,1,1.25,1.5,1.75,2],"labels":false,"title":null}}}},
{"data":{"values":[{}]},"layer":[
{"mark":{"type":"rule","color":"#ff0000","strokeWidth":2.5},"encoding":{"x":{"datum":1.23,"type":"quantitative","axis":null},"x2":{"datum":1.72},"y":{"datum":1.6,"type":"quantitative","axis":null}}},
{"mark":{"type":"rule","color":"#ff0000","strokeWidth":2.5},"encoding":{"x":{"datum":1.23,"type":"quantitative","axis":null},"y":{"datum":1.562,"type":"quantitative","axis":null},"y2":{"datum":1.638}}},
{"mark":{"type":"rule","color":"#ff0000","strokeWidth":2.5},"encoding":{"x":{"datum":1.72,"type":"quantitative","axis":null},"y":{"datum":1.562,"type":"quantitative","axis":null},"y2":{"datum":1.638}}},
{"mark":{"type":"point","filled":true,"size":70,"color":"#ff0000","opacity":1},"encoding":{"x":{"datum":1.475,"type":"quantitative","axis":null},"y":{"datum":1.6,"type":"quantitative","axis":null}}},
{"mark":{"type":"rule","color":"#0000ff","strokeWidth":2.5,"strokeDash":[7,4]},"encoding":{"x":{"datum":1.23,"type":"quantitative","axis":null},"x2":{"datum":1.72},"y":{"datum":1.322,"type":"quantitative","axis":null}}},
{"mark":{"type":"rule","color":"#0000ff","strokeWidth":1.5},"encoding":{"x":{"datum":1.23,"type":"quantitative","axis":null},"y":{"datum":1.299,"type":"quantitative","axis":null},"y2":{"datum":1.345}}},
{"mark":{"type":"rule","color":"#0000ff","strokeWidth":1.5},"encoding":{"x":{"datum":1.72,"type":"quantitative","axis":null},"y":{"datum":1.299,"type":"quantitative","axis":null},"y2":{"datum":1.345}}},
{"mark":{"type":"point","filled":true,"size":70,"color":"#0000ff","opacity":1},"encoding":{"x":{"datum":1.475,"type":"quantitative","axis":null},"y":{"datum":1.322,"type":"quantitative","axis":null}}},
{"mark":{"type":"text","text":"=0.579","align":"right","baseline":"middle","font":"Liberation Sans","fontSize":27,"color":"black"},"encoding":{"x":{"datum":1.13,"type":"quantitative","axis":null},"y":{"datum":1.6,"type":"quantitative","axis":null}}},
{"mark":{"type":"text","text":"y","align":"right","baseline":"middle","font":"Liberation Sans","fontSize":19,"color":"black","dx":-84,"dy":8},"encoding":{"x":{"datum":1.13,"type":"quantitative","axis":null},"y":{"datum":1.6,"type":"quantitative","axis":null}}},
{"mark":{"type":"text","text":"σ","align":"right","baseline":"middle","font":"Liberation Sans","fontSize":27,"color":"black","dx":-94},"encoding":{"x":{"datum":1.13,"type":"quantitative","axis":null},"y":{"datum":1.6,"type":"quantitative","axis":null}}},
{"mark":{"type":"text","text":"STAR","align":"right","baseline":"middle","font":"Liberation Sans","fontSize":27,"color":"black"},"encoding":{"x":{"datum":1.125,"type":"quantitative","axis":null},"y":{"datum":1.318,"type":"quantitative","axis":null}}},
{"mark":{"type":"text","text":"50-60%","align":"center","baseline":"middle","font":"Liberation Sans","fontSize":27,"color":"black"},"encoding":{"x":{"datum":1.495,"type":"quantitative","axis":null},"y":{"datum":0.97,"type":"quantitative","axis":null}}}
]}
]},
{"width":320,"height":260,"resolve":{"axis":{"x":"independent","y":"independent"}},"layer":[
{"data":{"name":"pts"},"transform":[{"filter":"datum.c=='60-70%' && datum.s=='m'"}],"mark":{"type":"line","color":"#ff0000","strokeWidth":2.5,"point":{"filled":true,"size":125,"color":"#ff0000","opacity":1}},"encoding":{"x":{"field":"x","type":"quantitative","scale":{"domain":[0,2]},"axis":{"orient":"bottom","values":[0,0.25,0.5,0.75,1,1.25,1.5,1.75,2],"labels":false,"title":null}},"y":{"field":"y","type":"quantitative","scale":{"domain":[0,2]},"axis":{"orient":"left","values":[0,0.25,0.5,0.75,1,1.25,1.5,1.75,2],"labels":false,"title":null}}}},
{"data":{"name":"pts"},"transform":[{"filter":"datum.c=='60-70%' && datum.s=='s'"}],"mark":{"type":"line","color":"#0000ff","strokeWidth":2.5,"strokeDash":[7,4],"point":{"filled":true,"size":125,"color":"#0000ff","opacity":1}},"encoding":{"x":{"field":"x","type":"quantitative","axis":{"orient":"top","values":[0,0.25,0.5,0.75,1,1.25,1.5,1.75,2],"labels":false,"title":null}},"y":{"field":"y","type":"quantitative","axis":{"orient":"right","values":[0,0.25,0.5,0.75,1,1.25,1.5,1.75,2],"labels":false,"title":null}}}},
{"data":{"values":[{}]},"layer":[
{"mark":{"type":"rule","color":"#ff0000","strokeWidth":2.5},"encoding":{"x":{"datum":1.23,"type":"quantitative","axis":null},"x2":{"datum":1.72},"y":{"datum":1.6,"type":"quantitative","axis":null}}},
{"mark":{"type":"rule","color":"#ff0000","strokeWidth":2.5},"encoding":{"x":{"datum":1.23,"type":"quantitative","axis":null},"y":{"datum":1.562,"type":"quantitative","axis":null},"y2":{"datum":1.638}}},
{"mark":{"type":"rule","color":"#ff0000","strokeWidth":2.5},"encoding":{"x":{"datum":1.72,"type":"quantitative","axis":null},"y":{"datum":1.562,"type":"quantitative","axis":null},"y2":{"datum":1.638}}},
{"mark":{"type":"point","filled":true,"size":70,"color":"#ff0000","opacity":1},"encoding":{"x":{"datum":1.475,"type":"quantitative","axis":null},"y":{"datum":1.6,"type":"quantitative","axis":null}}},
{"mark":{"type":"rule","color":"#0000ff","strokeWidth":2.5,"strokeDash":[7,4]},"encoding":{"x":{"datum":1.23,"type":"quantitative","axis":null},"x2":{"datum":1.72},"y":{"datum":1.322,"type":"quantitative","axis":null}}},
{"mark":{"type":"rule","color":"#0000ff","strokeWidth":1.5},"encoding":{"x":{"datum":1.23,"type":"quantitative","axis":null},"y":{"datum":1.299,"type":"quantitative","axis":null},"y2":{"datum":1.345}}},
{"mark":{"type":"rule","color":"#0000ff","strokeWidth":1.5},"encoding":{"x":{"datum":1.72,"type":"quantitative","axis":null},"y":{"datum":1.299,"type":"quantitative","axis":null},"y2":{"datum":1.345}}},
{"mark":{"type":"point","filled":true,"size":70,"color":"#0000ff","opacity":1},"encoding":{"x":{"datum":1.475,"type":"quantitative","axis":null},"y":{"datum":1.322,"type":"quantitative","axis":null}}},
{"mark":{"type":"text","text":"=0.608","align":"right","baseline":"middle","font":"Liberation Sans","fontSize":27,"color":"black"},"encoding":{"x":{"datum":1.13,"type":"quantitative","axis":null},"y":{"datum":1.6,"type":"quantitative","axis":null}}},
{"mark":{"type":"text","text":"y","align":"right","baseline":"middle","font":"Liberation Sans","fontSize":19,"color":"black","dx":-84,"dy":8},"encoding":{"x":{"datum":1.13,"type":"quantitative","axis":null},"y":{"datum":1.6,"type":"quantitative","axis":null}}},
{"mark":{"type":"text","text":"σ","align":"right","baseline":"middle","font":"Liberation Sans","fontSize":27,"color":"black","dx":-94},"encoding":{"x":{"datum":1.13,"type":"quantitative","axis":null},"y":{"datum":1.6,"type":"quantitative","axis":null}}},
{"mark":{"type":"text","text":"STAR","align":"right","baseline":"middle","font":"Liberation Sans","fontSize":27,"color":"black"},"encoding":{"x":{"datum":1.125,"type":"quantitative","axis":null},"y":{"datum":1.318,"type":"quantitative","axis":null}}},
{"mark":{"type":"text","text":"60-70%","align":"center","baseline":"middle","font":"Liberation Sans","fontSize":27,"color":"black"},"encoding":{"x":{"datum":1.495,"type":"quantitative","axis":null},"y":{"datum":0.97,"type":"quantitative","axis":null}}}
]}
]}
]
}
